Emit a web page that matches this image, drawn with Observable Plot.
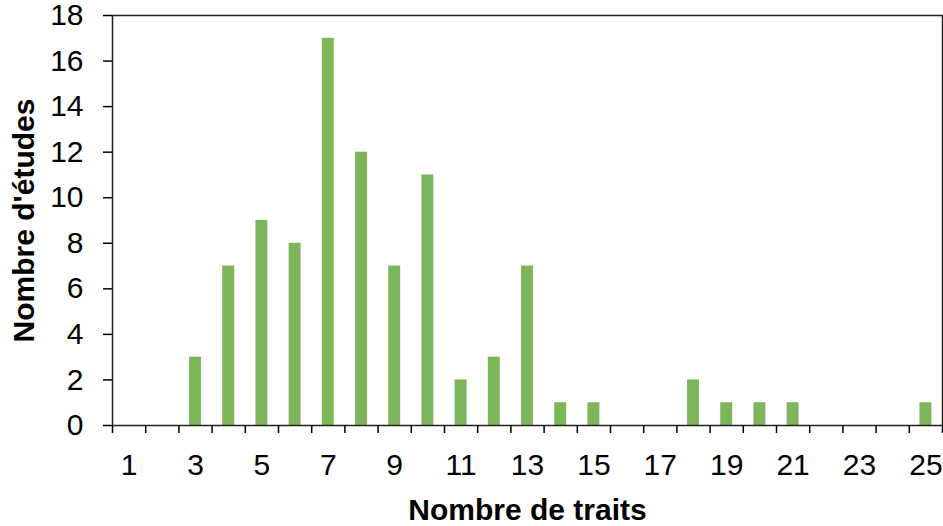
<!DOCTYPE html>
<html>
<head>
<meta charset="utf-8">
<script src="https://cdn.jsdelivr.net/npm/d3@7"></script>
<script src="https://cdn.jsdelivr.net/npm/@observablehq/plot@0.6"></script>
<style>
  html, body { margin: 0; padding: 0; background: #fff; }
</style>
</head>
<body>
<div id="chart"></div>
<script>
const traits = [1, 2, 3, 4, 5, 6, 7, 8, 9, 10, 11, 12, 13, 14, 15, 16, 17, 18, 19, 20, 21, 22, 23, 24, 25];
const studies = [0, 0, 3, 7, 9, 8, 17, 12, 7, 11, 2, 3, 7, 1, 1, 0, 0, 2, 1, 1, 1, 0, 0, 0, 1];
const xTickLabels = [1, 3, 5, 7, 9, 11, 13, 15, 17, 19, 21, 23, 25];
const yTicks = [0, 2, 4, 6, 8, 10, 12, 14, 16, 18];
const xTitle = "Nombre de traits";
const yTitle = "Nombre d'études";

const data = traits.map((t, i) => ({traits: t, studies: studies[i]}));
const boundaries = [...traits.map(t => t - 0.5), traits[traits.length - 1] + 0.5];
const half = 0.18;

const chart = Plot.plot({
  width: 943,
  height: 526,
  marginLeft: 112,
  marginRight: 1,
  marginTop: 15,
  marginBottom: 101,
  style: {fontFamily: "Liberation Sans, Arial, sans-serif", fontSize: "30px", color: "#000", background: "#fff", overflow: "visible"},
  x: {type: "linear", domain: [0.5, 25.5]},
  y: {domain: [0, 18]},
  marks: [
    Plot.rectY(data.filter(d => d.studies > 0), {
      x1: d => d.traits - half,
      x2: d => d.traits + half,
      y: "studies",
      fill: "#7db55b"
    }),
    Plot.frame({stroke: "#222", strokeWidth: 1.5}),
    Plot.axisY({ticks: yTicks, tickSize: 9, tickPadding: 20, label: null, stroke: "#000", strokeWidth: 1.5}),
    Plot.axisX({ticks: boundaries, tickSize: 8, tickFormat: () => "", label: null, strokeWidth: 1.5}),
    Plot.axisX({ticks: xTickLabels, tickSize: 0, tickPadding: 28, label: null}),
    Plot.text([xTitle], {frameAnchor: "bottom", dy: 85, textAnchor: "middle", lineAnchor: "middle", fontWeight: "bold", fontSize: 30}),
    Plot.text([yTitle], {frameAnchor: "left", dx: -88, rotate: -90, textAnchor: "middle", lineAnchor: "middle", fontWeight: "bold", fontSize: 30})
  ]
});
document.getElementById("chart").appendChild(chart);
</script>
</body>
</html>
